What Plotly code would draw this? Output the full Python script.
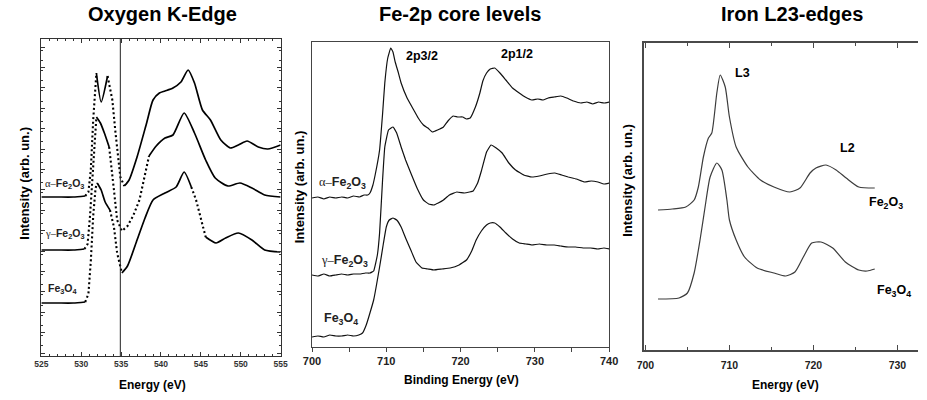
import plotly.graph_objects as go

W, H = 927, 400
SANS = "Arial, 'Liberation Sans', sans-serif"
SERIF = "'Liberation Serif', 'Times New Roman', serif"

# ---------------- Oxygen K-edge (energy in eV, intensity in arb. units) ----------------
ok_alpha_e = [525.0, 527.0, 529.0, 530.5, 530.9, 531.2, 531.5, 531.9, 532.5, 533.3, 533.9,
              534.3, 534.9, 535.4, 536.0, 537.0, 538.2, 539.0, 539.8, 540.5, 541.5, 542.5,
              543.4, 544.2, 545.2, 546.2, 547.5, 548.7, 549.7, 550.8, 552.2, 553.4, 555.0]
ok_alpha_i = [1.59, 1.59, 1.59, 1.60, 1.64, 1.86, 2.36, 2.83, 2.54, 2.80, 2.56,
              2.23, 1.79, 1.70, 1.76, 1.99, 2.33, 2.56, 2.63, 2.65, 2.68, 2.74,
              2.86, 2.73, 2.46, 2.36, 2.16, 2.08, 2.11, 2.15, 2.09, 2.07, 2.11]

ok_gamma_e = [525.0, 527.0, 529.0, 530.4, 530.8, 531.1, 531.5, 531.9, 532.4, 532.9, 533.5,
              533.8, 534.1, 534.5, 535.1, 535.8, 536.5, 537.3, 538.5, 539.4, 540.5, 541.5,
              542.9, 544.2, 545.6, 546.8, 548.4, 549.9, 551.4, 553.0, 555.0]
ok_gamma_i = [1.06, 1.06, 1.06, 1.07, 1.12, 1.40, 1.96, 2.39, 2.33, 2.23, 2.09,
              1.90, 1.66, 1.36, 1.25, 1.30, 1.40, 1.56, 2.00, 2.10, 2.18, 2.21,
              2.43, 2.23, 1.96, 1.78, 1.70, 1.73, 1.68, 1.61, 1.59]

ok_mag_e = [525.0, 527.0, 529.0, 530.5, 530.9, 531.2, 531.5, 531.8, 532.0, 532.5, 533.0,
            533.6, 534.1, 534.5, 535.1, 535.8, 537.0, 538.0, 539.0, 540.5, 541.9, 542.9,
            543.8, 544.4, 545.6, 546.9, 548.1, 549.7, 551.4, 553.0, 555.0]
ok_mag_i = [0.53, 0.53, 0.53, 0.54, 0.62, 0.95, 1.40, 1.68, 1.73, 1.66, 1.54,
            1.46, 1.29, 1.03, 0.83, 0.90, 1.16, 1.38, 1.56, 1.63, 1.69, 1.84,
            1.69, 1.56, 1.19, 1.13, 1.18, 1.23, 1.16, 1.06, 1.04]

ok_marker_e = 534.9  # reference line on the edge plot

# ---------------- Fe-2p XPS (binding energy in eV) ----------------
xps_alpha_e = [700.0, 700.8, 701.6, 702.4, 703.2, 704.0, 704.8, 705.6, 706.4, 707.0, 707.5,
               707.8, 708.2, 708.5, 709.1, 709.5, 709.8, 710.2, 710.6, 710.9, 711.2, 711.6,
               712.0, 712.8, 713.7, 714.3, 715.0, 715.6, 716.2, 716.9, 717.7, 718.3, 719.0,
               719.6, 720.3, 720.8, 721.3, 722.0, 722.6, 723.0, 723.5, 724.0, 724.6, 725.3,
               726.1, 727.0, 727.9, 728.7, 729.6, 730.4, 731.1, 731.8, 732.6, 733.5, 734.3,
               735.2, 736.2, 737.0, 737.8, 738.6, 739.3, 740.0]
xps_alpha_i = [1.49, 1.50, 1.48, 1.50, 1.49, 1.50, 1.49, 1.51, 1.50, 1.52, 1.52,
               1.54, 1.62, 1.72, 1.97, 2.33, 2.64, 2.89, 2.99, 2.95, 2.85, 2.75,
               2.64, 2.49, 2.37, 2.29, 2.22, 2.19, 2.15, 2.17, 2.20, 2.26, 2.31,
               2.30, 2.30, 2.28, 2.29, 2.40, 2.54, 2.66, 2.74, 2.78, 2.79, 2.74,
               2.67, 2.59, 2.54, 2.50, 2.47, 2.48, 2.47, 2.49, 2.50, 2.51, 2.49,
               2.46, 2.44, 2.45, 2.43, 2.45, 2.44, 2.45]

xps_gamma_e = [700.0, 700.8, 701.6, 702.4, 703.2, 704.0, 704.8, 705.6, 706.4, 707.2, 707.8,
               708.3, 708.8, 709.1, 709.5, 709.8, 710.3, 710.9, 711.4, 712.0, 712.6, 713.3,
               714.2, 715.0, 715.7, 716.4, 717.0, 717.7, 718.5, 719.5, 720.5, 721.2, 721.7,
               722.3, 722.8, 723.5, 724.1, 724.8, 725.6, 726.5, 727.4, 728.5, 729.6, 730.6,
               731.7, 732.7, 733.6, 734.5, 735.6, 736.7, 737.6, 738.5, 739.3, 740.0]
xps_gamma_i = [0.72, 0.71, 0.73, 0.71, 0.72, 0.73, 0.72, 0.73, 0.73, 0.74, 0.74,
               0.76, 0.92, 1.14, 1.67, 2.00, 2.17, 2.20, 2.14, 2.00, 1.87, 1.74,
               1.58, 1.47, 1.43, 1.42, 1.44, 1.47, 1.52, 1.55, 1.54, 1.55, 1.56,
               1.64, 1.76, 1.95, 2.02, 1.99, 1.94, 1.84, 1.77, 1.72, 1.70, 1.71,
               1.73, 1.74, 1.72, 1.70, 1.68, 1.65, 1.66, 1.65, 1.63, 1.64]

xps_mag_e = [700.0, 700.8, 701.6, 702.4, 703.2, 704.0, 704.8, 705.6, 706.3, 706.8, 707.3,
             707.8, 708.3, 709.1, 709.6, 710.0, 710.4, 710.9, 711.4, 712.0, 712.6, 713.3,
             714.0, 714.8, 715.6, 716.4, 717.5, 718.6, 719.8, 720.8, 721.5, 722.1, 722.8,
             723.5, 724.0, 724.6, 725.3, 726.1, 727.0, 727.9, 728.8, 729.6, 730.6, 731.6,
             732.6, 733.5, 734.5, 735.5, 736.5, 737.5, 738.5, 739.3, 740.0]
xps_mag_i = [0.10, 0.11, 0.10, 0.12, 0.11, 0.11, 0.12, 0.11, 0.12, 0.14, 0.22,
             0.34, 0.47, 0.80, 1.03, 1.20, 1.27, 1.29, 1.27, 1.20, 1.09, 0.97,
             0.85, 0.79, 0.78, 0.77, 0.78, 0.79, 0.82, 0.87, 0.96, 1.07, 1.16,
             1.22, 1.24, 1.24, 1.20, 1.14, 1.08, 1.04, 1.03, 1.02, 1.03, 1.02,
             1.02, 1.01, 1.00, 1.00, 0.99, 0.99, 0.98, 0.99, 0.98]

# ---------------- Iron L2,3 edges (energy in eV) ----------------
l23_hem_e = [701.5, 703.2, 704.8, 705.8, 706.3, 706.9, 707.5, 707.9, 708.5, 708.9, 709.5,
             710.0, 710.8, 712.2, 713.7, 715.3, 717.2, 718.4, 719.6, 720.3, 721.5, 722.7,
             723.9, 725.4, 727.3]
l23_hem_i = [1.40, 1.41, 1.43, 1.50, 1.63, 1.93, 2.12, 2.17, 2.57, 2.75, 2.63,
             2.33, 2.03, 1.83, 1.70, 1.63, 1.58, 1.62, 1.77, 1.82, 1.85, 1.80,
             1.72, 1.63, 1.62]

l23_mag_e = [701.5, 704.0, 705.0, 705.8, 706.5, 707.1, 707.7, 708.5, 709.1, 709.7, 710.0,
             710.8, 711.8, 713.3, 715.3, 716.7, 717.8, 718.8, 719.8, 720.9, 722.3, 723.8,
             725.4, 726.4, 727.3]
l23_mag_i = [0.51, 0.52, 0.57, 0.77, 1.10, 1.43, 1.73, 1.87, 1.80, 1.50, 1.30,
             1.10, 0.93, 0.82, 0.77, 0.74, 0.78, 0.93, 1.07, 1.08, 1.02, 0.88,
             0.80, 0.79, 0.81]


def px_x(p):
    return p / W


def px_y(p):
    return 1 - p / H


fig = go.Figure()


def add_segment(xs, ys, dotted, xa, ya):
    fig.add_trace(go.Scatter(
        x=xs, y=ys, mode="lines", xaxis=xa, yaxis=ya,
        line=dict(color="black", width=2.1 if dotted else 1.7,
                  dash="2px,2.6px" if dotted else "solid",
                  shape="linear" if dotted else "spline", smoothing=0.6),
        showlegend=False, hoverinfo="skip"))


def add_split(e, i, windows, xa, ya):
    """Draw a spectrum: solid where sampling is dense, dotted across steep edges."""
    def dotted(a, b):
        return any(lo <= a and b <= hi for lo, hi in windows)

    seg_x, seg_y = [e[0]], [i[0]]
    cur = dotted(e[0], e[1])
    for k in range(1, len(e)):
        d = dotted(e[k - 1], e[k])
        if d != cur:
            add_segment(seg_x, seg_y, cur, xa, ya)
            seg_x, seg_y = [e[k - 1]], [i[k - 1]]
            cur = d
        seg_x.append(e[k])
        seg_y.append(i[k])
    add_segment(seg_x, seg_y, cur, xa, ya)


# Panel 1: O K-edge
add_split(ok_alpha_e, ok_alpha_i, [(530.5, 531.9), (533.3, 535.4)], "x", "y")
add_split(ok_gamma_e, ok_gamma_i, [(530.4, 531.9), (533.5, 538.5)], "x", "y")
add_split(ok_mag_e, ok_mag_i, [(530.5, 532.0), (533.6, 535.1), (543.8, 545.6)], "x", "y")

# Panel 2: Fe-2p
for e, i in [(xps_alpha_e, xps_alpha_i), (xps_gamma_e, xps_gamma_i), (xps_mag_e, xps_mag_i)]:
    fig.add_trace(go.Scatter(x=e, y=i, mode="lines", xaxis="x2", yaxis="y2",
                             line=dict(color="#111111", width=1.2, shape="spline", smoothing=0.3),
                             showlegend=False, hoverinfo="skip"))

# Panel 3: Fe L2,3
for e, i in [(l23_hem_e, l23_hem_i), (l23_mag_e, l23_mag_i)]:
    fig.add_trace(go.Scatter(x=e, y=i, mode="lines", xaxis="x3", yaxis="y3",
                             line=dict(color="#3c3c3c", width=1.2, shape="spline", smoothing=0.6),
                             showlegend=False, hoverinfo="skip"))

fig.add_shape(type="line", xref="x", yref="y domain", x0=ok_marker_e, x1=ok_marker_e,
              y0=0, y1=1, line=dict(color="#222222", width=1))

ax_common = dict(showgrid=False, zeroline=False)

fig.update_layout(
    width=W, height=H,
    margin=dict(l=0, r=0, t=0, b=0),
    paper_bgcolor="white", plot_bgcolor="white",
    font=dict(family=SANS, color="black"),
    xaxis=dict(**ax_common, domain=[px_x(33), px_x(277)], range=[525, 555], anchor="y",
               showline=True, linecolor="#333333", linewidth=1, mirror="ticks",
               ticks="inside", ticklen=4, tickcolor="#333333", dtick=5, tick0=525,
               minor=dict(ticks="inside", ticklen=2, dtick=1, tickcolor="#333333"),
               tickfont=dict(size=8.5, color="#333333", weight="bold")),
    yaxis=dict(**ax_common, domain=[px_y(356), px_y(39)], range=[0, 3.17], anchor="x",
               showline=True, linecolor="#333333", linewidth=1, mirror="ticks",
               ticks="inside", ticklen=4, tickcolor="#333333", dtick=0.204, tick0=0.03,
               minor=dict(ticks="inside", ticklen=2, dtick=0.102, tickcolor="#333333"),
               showticklabels=False),
    xaxis2=dict(**ax_common, domain=[px_x(309), px_x(612)], range=[700, 740], anchor="y2",
                showline=True, linecolor="#444444", linewidth=1.3, mirror=True,
                ticks="outside", ticklen=4, tickcolor="#444444", dtick=10, tick0=700,
                minor=dict(ticks="outside", ticklen=4, dtick=5, tickcolor="#444444"),
                tickfont=dict(size=11, color="#222222", weight="bold")),
    yaxis2=dict(**ax_common, domain=[px_y(347), px_y(42)], range=[0, 3.05], anchor="x2",
                showline=True, linecolor="#444444", linewidth=1.3, mirror=True,
                ticks="", showticklabels=False),
    xaxis3=dict(**ax_common, domain=[px_x(648), 1.0], range=[699.88, 732.45], anchor="y3",
                showline=True, linecolor="#4a4a4a", linewidth=1.6, mirror="ticks",
                ticks="inside", ticklen=5, tickcolor="#4a4a4a", dtick=10, tick0=700,
                minor=dict(ticks="inside", ticklen=3, dtick=5, tickcolor="#4a4a4a"),
                ticklabelstandoff=5,
                tickfont=dict(size=10.5, color="#222222", weight="bold")),
    yaxis3=dict(**ax_common, domain=[px_y(350), px_y(43)], range=[0, 3.07], anchor="x3",
                showline=True, linecolor="#4a4a4a", linewidth=1.6, mirror=False,
                ticks="", showticklabels=False),
)

ann = []


def text(x, y, s, size, xanchor="center", angle=0, bold=True, color="black"):
    ann.append(dict(x=px_x(x), y=px_y(y), xref="paper", yref="paper", text=s,
                    showarrow=False, xanchor=xanchor, yanchor="middle", textangle=angle,
                    font=dict(size=size, family=SANS, color=color,
                              weight="bold" if bold else "normal")))


def greek(ch):
    return f"<span style=\"font-family:{SERIF};font-weight:normal\">{ch}\u2013</span>"


# Titles
text(157, 14, "Oxygen K-Edge", 20)
text(460, 14, "Fe-2p core levels", 20)
text(799, 14, "Iron L23-edges", 20)

# Axis titles
text(146, 385, "Energy (eV)", 12)
text(461, 380, "Binding Energy (eV)", 12)
text(792, 385, "Energy (eV)", 12)
text(15, 183, "Intensity (arb. un.)", 13, angle=-90)
text(296, 187, "Intensity (arb. un.)", 13, angle=-90)
text(631, 180, "Intensity (arb. un.)", 13, angle=-90)

# Panel 1 sample labels
text(35, 184, greek("α") + "Fe<sub>2</sub>O<sub>3</sub>", 10.5, xanchor="left", color="#222222")
text(35, 234, greek("γ") + "Fe<sub>2</sub>O<sub>3</sub>", 10.5, xanchor="left", color="#222222")
text(38, 289, "Fe<sub>3</sub>O<sub>4</sub>", 10.5, xanchor="left", color="#222222")

# Panel 2 labels
text(403, 56, "2p3/2", 12.5, xanchor="left")
text(500, 54, "2p1/2", 12.5, xanchor="left")
text(314, 183, greek("α") + "Fe<sub>2</sub>O<sub>3</sub>", 12.5, xanchor="left", color="#222222")
text(316, 261, greek("γ") + "Fe<sub>2</sub>O<sub>3</sub>", 12.5, xanchor="left", color="#222222")
text(319, 319, "Fe<sub>3</sub>O<sub>4</sub>", 12.5, xanchor="left", color="#222222")

# Panel 3 labels
text(738, 73, "L3", 12.5, xanchor="left")
text(845, 148, "L2", 12.5, xanchor="left")
text(875, 203, "Fe<sub>2</sub>O<sub>3</sub>", 12.5, xanchor="left")
text(883, 291, "Fe<sub>3</sub>O<sub>4</sub>", 12.5, xanchor="left")

fig.update_layout(annotations=ann)

fig.write_html("out.html")
